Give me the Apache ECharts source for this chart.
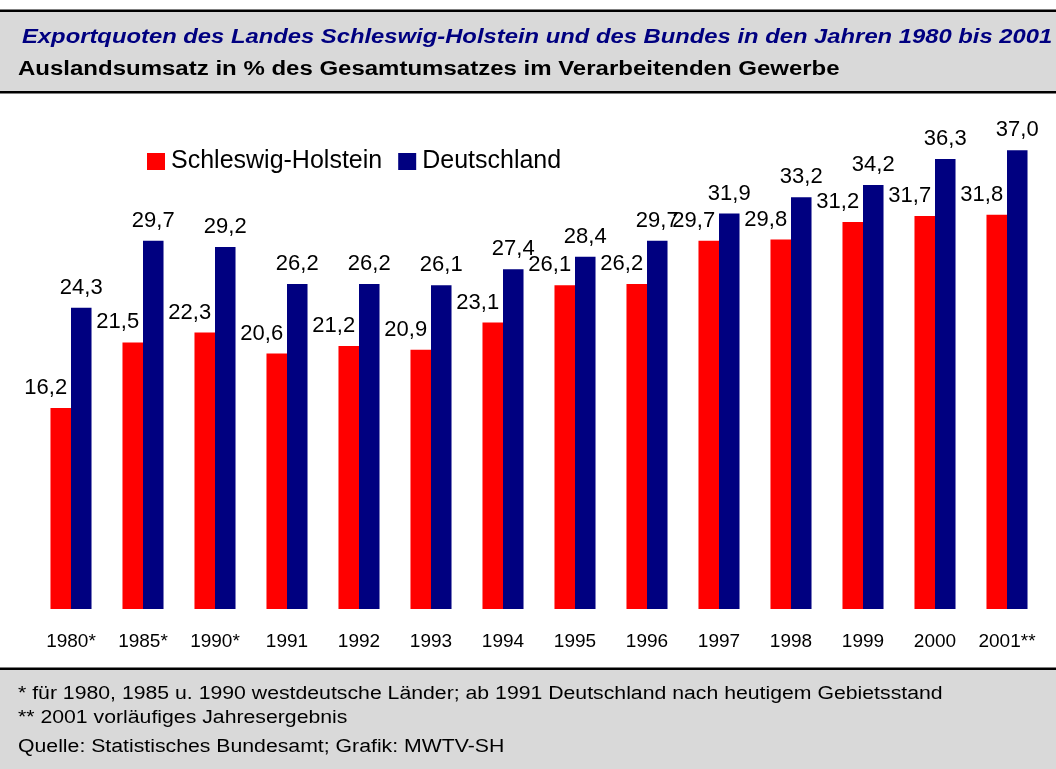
<!DOCTYPE html>
<html>
<head>
<meta charset="utf-8">
<script src="https://cdn.jsdelivr.net/npm/echarts@6/dist/echarts.min.js"></script>
<style>
  html, body { margin: 0; padding: 0; background: #fff; }
  #chart { width: 1056px; height: 769px; }
</style>
</head>
<body>
<div id="chart"></div>
<script>
var years = ['1980*', '1985*', '1990*', '1991', '1992', '1993', '1994', '1995', '1996', '1997', '1998', '1999', '2000', '2001**'];
var shValues = [16.2, 21.5, 22.3, 20.6, 21.2, 20.9, 23.1, 26.1, 26.2, 29.7, 29.8, 31.2, 31.7, 31.8];
var deValues = [24.3, 29.7, 29.2, 26.2, 26.2, 26.1, 27.4, 28.4, 29.7, 31.9, 33.2, 34.2, 36.3, 37.0];
var seriesNames = ['Schleswig-Holstein', 'Deutschland'];

var titleText = 'Exportquoten des Landes Schleswig-Holstein und des Bundes in den Jahren 1980 bis 2001';
var subtitleText = 'Auslandsumsatz in % des Gesamtumsatzes im Verarbeitenden Gewerbe';
var footnotes = [
  '* für 1980, 1985 u. 1990 westdeutsche Länder; ab 1991 Deutschland nach heutigem Gebietsstand',
  '** 2001 vorläufiges Jahresergebnis',
  'Quelle: Statistisches Bundesamt; Grafik: MWTV-SH'
];

var font = 'Arial, "Liberation Sans", Helvetica, sans-serif';

function fmt(p) {
  return p.value.toFixed(1).replace('.', ',');
}

// the original header/footer type is a bit wider than Arial, so stretch it
function stretchedText(x, y, txt, size, sx, extra) {
  var style = { text: txt, fontFamily: font, fontSize: size, fill: '#000', textVerticalAlign: 'middle' };
  for (var k in extra) style[k] = extra[k];
  return { type: 'text', x: x, y: y, scaleX: sx, style: style };
}

var chart = echarts.init(document.getElementById('chart'));

chart.setOption({
  backgroundColor: '#ffffff',
  animation: false,
  textStyle: { fontFamily: font },
  graphic: [
    // header band
    { type: 'rect', shape: { x: 0, y: 10, width: 1056, height: 82 }, style: { fill: '#d9d9d9' }, z: -1 },
    { type: 'rect', shape: { x: 0, y: 9.5, width: 1056, height: 2.5 }, style: { fill: '#000' } },
    { type: 'rect', shape: { x: 0, y: 91, width: 1056, height: 2.5 }, style: { fill: '#000' } },
    stretchedText(22, 37, titleText, 20, 1.19, { fill: '#000080', fontStyle: 'italic', fontWeight: 'bold' }),
    stretchedText(18, 69, subtitleText, 20, 1.2, { fontWeight: 'bold' }),
    // footer band
    { type: 'rect', shape: { x: 0, y: 668, width: 1056, height: 101 }, style: { fill: '#d9d9d9' }, z: -1 },
    { type: 'rect', shape: { x: 0, y: 667.5, width: 1056, height: 2.5 }, style: { fill: '#000' } },
    stretchedText(18, 694, footnotes[0], 18, 1.18, {}),
    stretchedText(18, 718, footnotes[1], 18, 1.18, {}),
    stretchedText(18, 747, footnotes[2], 18, 1.18, {})
  ],
  legend: {
    left: 142, top: 144,
    itemWidth: 18, itemHeight: 17, itemGap: 16,
    icon: 'rect',
    textStyle: { fontFamily: font, fontSize: 25, color: '#000', padding: [0, 0, 0, 1] },
    data: seriesNames
  },
  grid: { left: 35, right: 13, top: 113, bottom: 160 },
  xAxis: {
    type: 'category',
    data: years,
    axisLine: { show: false },
    axisTick: { show: false },
    axisLabel: { color: '#000', fontSize: 19, fontFamily: font, margin: 23, interval: 0 }
  },
  yAxis: {
    type: 'value', min: 0, max: 40,
    show: false,
    splitLine: { show: false }
  },
  series: [
    {
      name: seriesNames[0], type: 'bar', data: shValues,
      barGap: '0%', barCategoryGap: '43%',
      itemStyle: { color: '#ff0000' },
      label: { show: true, position: 'top', distance: 9, offset: [-15, 0], formatter: fmt,
        color: '#000', fontSize: 22, fontFamily: font }
    },
    {
      name: seriesNames[1], type: 'bar', data: deValues,
      barGap: '0%', barCategoryGap: '43%',
      itemStyle: { color: '#000080' },
      label: { show: true, position: 'top', distance: 9, formatter: fmt,
        color: '#000', fontSize: 22, fontFamily: font }
    }
  ]
});
</script>
</body>
</html>
